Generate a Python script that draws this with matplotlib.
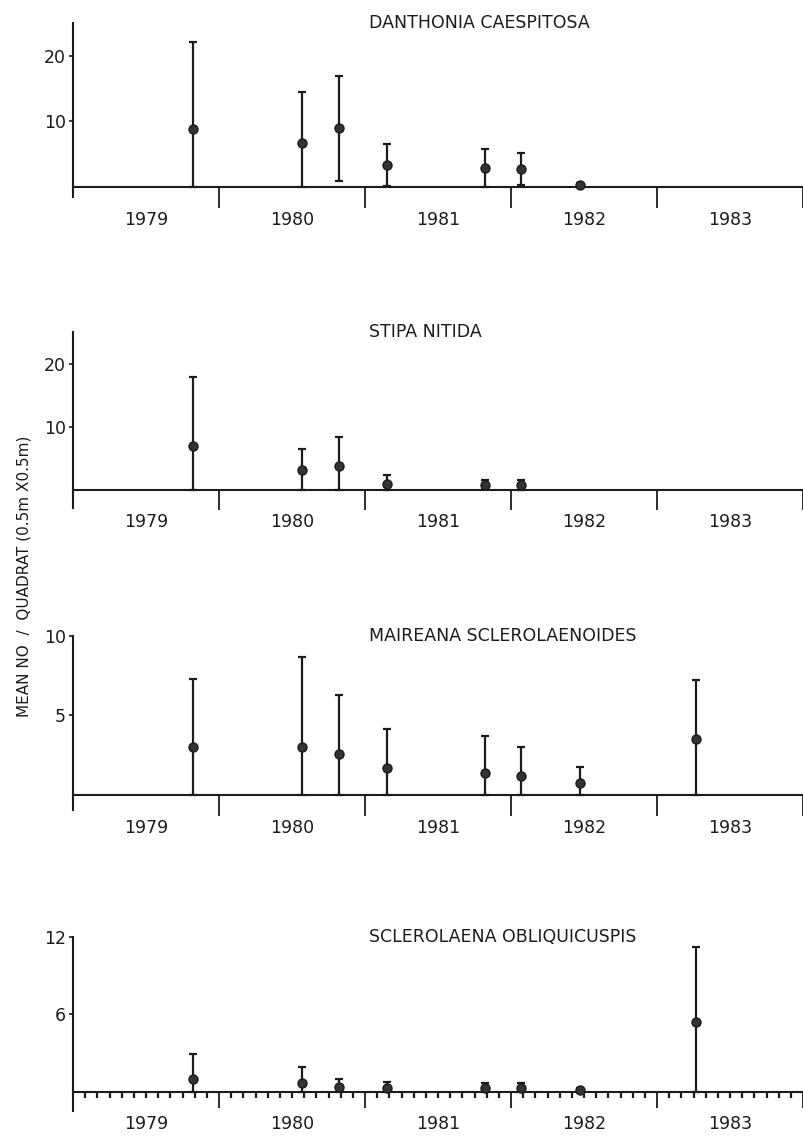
import numpy as np
import matplotlib
matplotlib.use("Agg")
import matplotlib.pyplot as plt
from matplotlib.ticker import FixedLocator, NullFormatter

# ---------------- data ----------------
sample_dates = [1979.82, 1980.57, 1980.82, 1981.15, 1981.82, 1982.07, 1982.47, 1983.27]
year_labels = ["1979", "1980", "1981", "1982", "1983"]

danthonia_mean = [8.8, 6.7, 9.0, 3.3, 2.9, 2.8, 0.3]
danthonia_se = [13.3, 7.8, 8.0, 3.2, 2.9, 2.4, 0.3]

stipa_mean = [6.9, 3.05, 3.8, 0.9, 0.8, 0.7]
stipa_se = [11.0, 3.45, 4.5, 1.5, 0.7, 0.8]

maireana_mean = [3.0, 3.0, 2.55, 1.7, 1.35, 1.2, 0.75, 3.5]
maireana_se = [4.3, 5.7, 3.75, 2.45, 2.35, 1.8, 1.0, 3.75]

sclerolaena_mean = [1.0, 0.67, 0.4, 0.3, 0.3, 0.3, 0.15, 5.4]
sclerolaena_se = [1.9, 1.23, 0.55, 0.45, 0.4, 0.4, 0.15, 5.8]

titles = ["DANTHONIA CAESPITOSA", "STIPA NITIDA",
          "MAIREANA SCLEROLAENOIDES", "SCLEROLAENA OBLIQUICUSPIS"]
yticks = [[10, 20], [10, 20], [5, 10], [6, 12]]
ytop = [25, 25, 10, 12]
ybottom = [-1.5, -2.9, -0.95, -1.5]
ylabel = "MEAN NO  /  QUADRAT (0.5m X0.5m)"

means = [danthonia_mean, stipa_mean, maireana_mean, sclerolaena_mean]
ses = [danthonia_se, stipa_se, maireana_se, sclerolaena_se]

# ---------------- layout ----------------
W, H = 804, 1136
fig = plt.figure(figsize=(W / 100, H / 100), dpi=100)
plt.rcParams['font.family'] = ['DejaVu Sans']
ink = '#1c1c1c'

# (top_px, bottom_px) of each panel's y-axis
panel_px = [(23, 197), (332, 508), (636, 810), (937, 1111)]
major_len = [15, 14.5, 15, 11.5]
left_px, right_px = 73, 803

for i, (top, bot) in enumerate(panel_px):
    ax = fig.add_axes([left_px / W, 1 - bot / H, (right_px - left_px) / W, (bot - top) / H])
    ax.set_xlim(1979, 1984)
    ax.set_ylim(ybottom[i], ytop[i])
    ax.patch.set_visible(False)
    for s in ['top', 'right']:
        ax.spines[s].set_visible(False)
    ax.spines['bottom'].set_position(('data', 0))
    ax.spines['bottom'].set_linewidth(1.5)
    ax.spines['bottom'].set_color(ink)
    ax.spines['left'].set_linewidth(1.5)
    ax.spines['left'].set_color(ink)

    m = np.array(means[i])
    se = np.array(ses[i])
    x = np.array(sample_dates[:len(m)])
    lower = np.minimum(se, m)
    ax.errorbar(x, m, yerr=[lower, se], fmt='o', color=ink, ms=6.5,
                mfc='#333333', mec=ink, elinewidth=1.6, capsize=2.8,
                capthick=1.6, zorder=3, clip_on=False)

    # x ticks: year boundaries
    ax.xaxis.set_major_locator(FixedLocator([1980, 1981, 1982, 1983, 1984]))
    ax.xaxis.set_major_formatter(NullFormatter())
    ax.tick_params(axis='x', which='major', direction='out', length=major_len[i],
                   width=1.3, color=ink)
    if i == 3:
        months = [1979 + k / 12 for k in range(1, 60) if k % 12 != 0]
        ax.xaxis.set_minor_locator(FixedLocator(months))
        ax.tick_params(axis='x', which='minor', direction='out', length=4,
                       width=1.6, color=ink)
    for j, lab in enumerate(year_labels):
        ax.annotate(lab, xy=(1979.5 + j, 0), xytext=(0, -23.5),
                    textcoords='offset points', ha='center', va='center',
                    fontsize=12.5, color=ink)

    # y ticks
    ax.set_yticks(yticks[i])
    ax.set_yticklabels([str(v) for v in yticks[i]])
    ax.tick_params(axis='y', direction='out', length=3, width=1.2, color=ink,
                   labelsize=12.5, pad=2, labelcolor=ink)

    ax.text(0.405, 1.0, titles[i], transform=ax.transAxes, ha='left',
            va='center', fontsize=12.5, color=ink)

fig.text(24 / W, 1 - 576 / H, ylabel, rotation=90, ha='center', va='center',
         fontsize=11, color=ink)

fig.savefig('out.png', dpi=100, facecolor='white')
